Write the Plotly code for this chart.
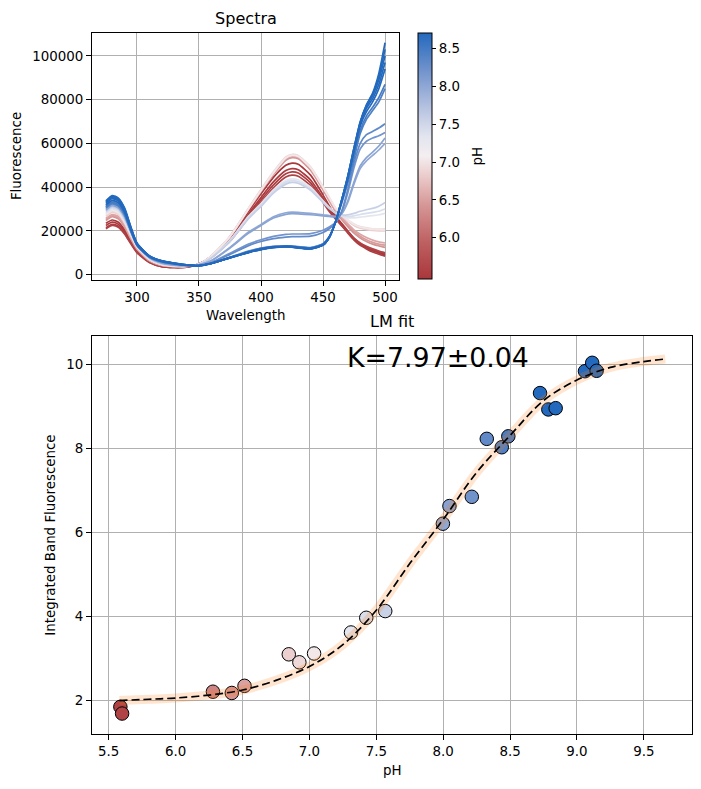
import plotly.graph_objects as go
from plotly.colors import sample_colorscale

# ---------------- data: spectra ----------------
wavelength = [275, 280, 285, 290, 295, 300, 310, 320, 330, 340, 350, 360, 375, 390, 400,
              410, 420, 425, 430, 440, 450, 455, 460, 465, 470, 475, 480, 485, 490, 495, 500]

spectra_pH = [5.47, 5.50, 5.53, 5.58, 6.40, 6.48, 6.55, 6.85, 6.93, 7.04, 7.31, 7.42,
              7.57, 7.99, 8.04, 8.21, 8.32, 8.44, 8.48, 8.72, 8.78, 8.84, 9.06, 9.11]

F_r1 = [23500, 25000, 24000, 20500, 15500, 11000, 6000, 3900, 3400, 3600, 5000, 8500, 17000, 29000, 37000, 44500, 50000, 51000, 50500, 45500, 36500, 31500, 27000, 23500, 20000, 16500, 14000, 12300, 11000, 10000, 9000]
F_r2 = [22500, 24000, 23000, 19700, 15000, 10600, 5800, 3800, 3300, 3500, 4900, 8200, 16300, 27800, 35300, 42400, 47600, 48500, 48000, 43300, 35000, 30500, 26500, 23000, 19700, 16500, 14200, 12600, 11300, 10300, 9500]
F_r3 = [21500, 23000, 22200, 19000, 14500, 10300, 5700, 3700, 3300, 3500, 4800, 8000, 15800, 27000, 34200, 41000, 46100, 47000, 46500, 42000, 34000, 29600, 25800, 22400, 19000, 15800, 13400, 11800, 10400, 9400, 8500]
F_r4 = [21000, 22500, 21700, 18600, 14200, 10100, 5600, 3700, 3300, 3500, 4800, 7800, 15300, 26100, 33100, 39700, 44600, 45500, 45000, 40700, 33000, 28900, 25500, 22500, 19500, 16700, 14500, 13000, 11800, 10800, 10000]
F_p1 = [24800, 26500, 25600, 21800, 16400, 11600, 6400, 4200, 3600, 3700, 4900, 8400, 17200, 29800, 38000, 45800, 52300, 53500, 53000, 47800, 38800, 33800, 29000, 25300, 22000, 19000, 16800, 15200, 14000, 13200, 12500]
F_p2 = [25300, 27000, 26100, 22300, 16800, 11900, 6500, 4300, 3700, 3800, 4900, 8500, 17400, 30100, 38400, 46200, 52800, 54000, 53500, 48300, 39200, 34200, 29400, 25800, 22600, 19800, 17600, 16000, 14800, 14000, 13500]
F_p3 = [25800, 27500, 26600, 22700, 17100, 12100, 6600, 4400, 3800, 3800, 4900, 8500, 17500, 30200, 38500, 46400, 53000, 54200, 53700, 48500, 39500, 34500, 29800, 26200, 23200, 20500, 18500, 17000, 15800, 15000, 14500]
F_p4 = [26700, 28500, 27600, 23600, 17800, 12500, 6900, 4600, 3900, 3900, 4900, 8600, 17600, 30400, 38800, 46800, 53600, 54800, 54300, 49000, 40000, 35000, 30200, 27000, 24500, 22500, 21200, 20600, 20200, 20000, 20000]
F_p5 = [27200, 29000, 28000, 24000, 18100, 12700, 7000, 4700, 4000, 3900, 4900, 8600, 17600, 30500, 39000, 47000, 53800, 55000, 54500, 49300, 40300, 35400, 30600, 27400, 25000, 23200, 22000, 21400, 21000, 20800, 21000]
F_p6 = [27600, 29500, 28500, 24400, 18400, 12900, 7100, 4700, 4000, 3900, 4900, 8500, 17400, 30100, 38500, 46500, 53300, 54500, 54000, 48900, 40000, 35200, 30500, 27300, 25000, 23000, 21800, 21200, 20800, 20600, 20500]
F_w1 = [28000, 30000, 29000, 24800, 18700, 13100, 7200, 4800, 4000, 3900, 4800, 8000, 15800, 26800, 32500, 38800, 43000, 43800, 43400, 40000, 33800, 30800, 28300, 26800, 26000, 26000, 26300, 26700, 27000, 27400, 28000]
F_w2 = [28500, 30500, 29500, 25200, 19000, 13300, 7400, 4900, 4100, 3900, 4800, 7900, 15500, 26300, 31900, 38100, 42200, 43000, 42600, 39300, 33400, 30500, 28200, 27000, 26600, 26900, 27500, 28000, 28500, 29000, 30000]
F_w3 = [29000, 31000, 30000, 25700, 19400, 13600, 7500, 5000, 4200, 4000, 4700, 7700, 15100, 25700, 31200, 37300, 41400, 42200, 41800, 38600, 33000, 30300, 28300, 27400, 27300, 28000, 29000, 29700, 30300, 31300, 33000]
F_l1 = [29500, 31500, 30500, 26500, 20000, 14000, 7900, 5300, 4400, 4100, 4500, 6500, 12500, 19500, 23000, 26500, 28300, 28600, 28500, 28000, 27400, 27000, 26700, 27800, 33000, 41500, 48500, 52000, 54500, 57000, 60000]
F_l2 = [30000, 32000, 31000, 27000, 20300, 14200, 8000, 5400, 4500, 4200, 4500, 6400, 12200, 19000, 22500, 25900, 27600, 27900, 27800, 27400, 26900, 26600, 26500, 28000, 33800, 42500, 49800, 53500, 56000, 58800, 62500]
F_m1 = [31000, 33000, 32000, 28000, 20800, 14200, 8200, 5700, 4700, 4200, 4300, 5600, 9800, 14000, 16000, 17500, 18400, 18600, 18600, 18800, 20300, 21800, 24000, 28500, 37500, 49000, 57500, 61000, 62500, 63500, 65000]
F_m2 = [31500, 33500, 32400, 28400, 21000, 14300, 8300, 5800, 4800, 4300, 4300, 5400, 9300, 13300, 15200, 16500, 17200, 17400, 17400, 17600, 19300, 21000, 23600, 29000, 39000, 51000, 60000, 64000, 65500, 67000, 69000]
F_d1 = [30500, 32500, 31400, 27400, 19900, 13300, 8000, 5900, 4900, 4300, 4100, 5200, 8000, 10800, 12200, 13000, 13200, 13100, 12800, 12400, 14200, 17500, 24000, 32500, 42000, 53000, 64500, 71000, 75000, 79000, 85000]
F_d2 = [31000, 33000, 31900, 27800, 20200, 13500, 8100, 6000, 5000, 4300, 4100, 5200, 7900, 10600, 12000, 12900, 13100, 13000, 12700, 12300, 14000, 17300, 24000, 33000, 43000, 54500, 66000, 72500, 76500, 81000, 87000]
F_d3 = [31800, 34000, 32900, 28600, 20700, 13800, 8300, 6100, 5100, 4400, 4100, 5100, 7800, 10400, 11800, 12700, 12900, 12800, 12400, 12000, 13700, 17100, 24000, 33500, 44000, 56500, 68000, 74500, 79000, 85000, 94000]
F_d4 = [32500, 34800, 33600, 29300, 21200, 14000, 8400, 6200, 5200, 4400, 4100, 5100, 7700, 10200, 11600, 12500, 12800, 12700, 12300, 11900, 13600, 17000, 24000, 33800, 44500, 57000, 69000, 76000, 80500, 87000, 97000]
F_d5 = [33000, 35300, 34100, 29700, 21500, 14200, 8500, 6300, 5200, 4500, 4200, 5100, 7700, 10100, 11500, 12400, 12700, 12600, 12200, 11800, 13500, 17000, 24000, 34000, 45000, 57500, 69500, 77000, 82000, 89000, 100000]
F_d6 = [33400, 35800, 34600, 30100, 21800, 14400, 8600, 6300, 5300, 4500, 4200, 5200, 7800, 10200, 11600, 12500, 12800, 12700, 12300, 11800, 13500, 17000, 24000, 34000, 45000, 58000, 70000, 77500, 82500, 90500, 103000]
F_d7 = [33800, 36200, 35000, 30500, 22000, 14500, 8700, 6400, 5300, 4500, 4200, 5200, 7800, 10200, 11600, 12600, 12900, 12800, 12400, 11900, 13600, 17000, 24000, 34000, 45000, 58000, 69500, 77500, 83000, 92000, 106000]

spectra = [F_r1, F_r2, F_r3, F_r4, F_p1, F_p2, F_p3, F_p4, F_p5, F_p6, F_w1, F_w2,
           F_w3, F_l1, F_l2, F_m1, F_m2, F_d1, F_d2, F_d3, F_d4, F_d5, F_d6, F_d7]

# ---------------- data: titration fit ----------------
pts_pH = [5.587, 5.600, 6.279, 6.420, 6.515, 6.846, 6.925, 7.035, 7.311, 7.425, 7.567,
          7.998, 8.047, 8.214, 8.326, 8.438, 8.487, 8.724, 8.786, 8.841, 9.060, 9.114, 9.147]
pts_val = [1.84, 1.68, 2.20, 2.17, 2.34, 3.09, 2.90, 3.11, 3.61, 3.96, 4.12,
           6.20, 6.62, 6.84, 8.22, 8.02, 8.28, 9.31, 8.92, 8.95, 9.83, 10.03, 9.84]

fit_pH = [5.58, 5.80, 6.00, 6.25, 6.50, 6.75, 7.00, 7.25, 7.50, 7.75, 8.00, 8.25,
          8.50, 8.75, 9.00, 9.25, 9.50, 9.66]
fit_val = [1.99, 2.02, 2.05, 2.12, 2.24, 2.47, 2.80, 3.32, 4.14, 5.25, 6.30, 7.42,
           8.30, 9.13, 9.62, 9.92, 10.06, 10.12]

x1_ticks = [300, 350, 400, 450, 500]
y1_ticks = [0, 20000, 40000, 60000, 80000, 100000]
x2_ticks = [5.5, 6.0, 6.5, 7.0, 7.5, 8.0, 8.5, 9.0, 9.5]
y2_ticks = [2, 4, 6, 8, 10]
cb_ticks = [6.0, 6.5, 7.0, 7.5, 8.0, 8.5]

# vlag (reversed) colormap
VLAG_R = [[0.0, 'rgb(169,55,59)'], [0.15, 'rgb(190,96,98)'], [0.30, 'rgb(214,150,150)'],
          [0.42, 'rgb(235,204,204)'], [0.50, 'rgb(244,238,240)'], [0.58, 'rgb(226,229,239)'],
          [0.70, 'rgb(180,193,224)'], [0.85, 'rgb(112,146,204)'], [1.0, 'rgb(35,105,189)']]
CMIN, CMAX = 5.46, 8.71

W, H = 701, 789
def px(x):
    return x / W
def py(y):
    return 1 - y / H

FONT = 'DejaVu Sans'
fig = go.Figure()

for ph, F in zip(spectra_pH, spectra):
    t = min(max((ph - CMIN) / (CMAX - CMIN), 0.0), 1.0)
    col = sample_colorscale(VLAG_R, [t])[0]
    fig.add_trace(go.Scatter(x=wavelength, y=F, mode='lines', xaxis='x', yaxis='y',
                             line=dict(color=col, width=1.7, shape='spline', smoothing=0.6),
                             showlegend=False, hoverinfo='skip'))

fig.add_trace(go.Scatter(
    x=pts_pH, y=pts_val, mode='markers', xaxis='x2', yaxis='y2', showlegend=False,
    marker=dict(size=13.5, color=pts_pH, colorscale=VLAG_R, cmin=CMIN, cmax=CMAX,
                line=dict(color='black', width=1),
                showscale=True,
                colorbar=dict(x=px(418), xanchor='left', xpad=0, y=py(156), yanchor='middle',
                              ypad=0, len=246, lenmode='pixels', thickness=14,
                              thicknessmode='pixels', outlinewidth=1, outlinecolor='black',
                              tickvals=cb_ticks, tickformat='.1f', ticks='outside', ticklen=4,
                              tickcolor='black', tickfont=dict(size=13.4, family=FONT)))))

fig.add_trace(go.Scatter(x=fit_pH, y=fit_val, mode='lines', xaxis='x2', yaxis='y2',
                         line=dict(color='rgba(255,127,14,0.2)', width=9, shape='spline'),
                         showlegend=False, hoverinfo='skip'))
fig.add_trace(go.Scatter(x=fit_pH, y=fit_val, mode='lines', xaxis='x2', yaxis='y2',
                         line=dict(color='black', width=1.7, dash='8px,4px', shape='spline'),
                         showlegend=False, hoverinfo='skip'))

axis_common = dict(showgrid=True, gridcolor='#b0b0b0', gridwidth=0.8, showline=True,
                   linecolor='black', linewidth=1, mirror=True, ticks='outside', ticklen=5,
                   tickcolor='black', zeroline=False, tickfont=dict(size=13.4, family=FONT))

fig.update_layout(
    width=W, height=H, margin=dict(l=0, r=0, t=0, b=0),
    paper_bgcolor='white', plot_bgcolor='white',
    font=dict(family=FONT, size=13.4, color='black'),
    xaxis=dict(domain=[px(92), px(399)], range=[263.75, 511.25], tickvals=x1_ticks,
               anchor='y', **axis_common),
    yaxis=dict(domain=[py(281), py(33)], range=[-2550, 110500], tickvals=y1_ticks,
               tickformat='d', anchor='x', **axis_common),
    xaxis2=dict(domain=[px(92), px(692)], range=[5.375, 9.86], tickvals=x2_ticks,
                tickformat='.1f', anchor='y2', **axis_common),
    yaxis2=dict(domain=[py(736), py(337)], range=[1.19, 10.665], tickvals=y2_ticks,
                anchor='x2', **axis_common),
)

ann = [
    dict(text='Spectra', x=px(245.5), y=py(18.5), size=16.1, angle=0),
    dict(text='Wavelength', x=px(245.5), y=py(316), size=13.4, angle=0),
    dict(text='Fluorescence', x=px(16.5), y=py(157), size=13.4, angle=-90),
    dict(text='LM fit', x=px(392), y=py(322), size=16.1, angle=0),
    dict(text='Integrated Band Fluorescence', x=px(51), y=py(537), size=13.4, angle=-90),
    dict(text='pH', x=px(392), y=py(772), size=13.4, angle=0),
    dict(text='pH', x=px(478), y=py(157), size=13.4, angle=-90),
]
for a in ann:
    fig.add_annotation(text=a['text'], x=a['x'], y=a['y'], xref='paper', yref='paper',
                       xanchor='center', yanchor='middle', showarrow=False,
                       textangle=a['angle'], font=dict(size=a['size'], family=FONT, color='black'))

fig.add_annotation(text='K=7.97±0.04', x=px(345), y=py(358), xref='paper', yref='paper',
                   xanchor='left', yanchor='middle', showarrow=False,
                   font=dict(size=26.8, family=FONT, color='black'))

fig.write_html('out.html')
